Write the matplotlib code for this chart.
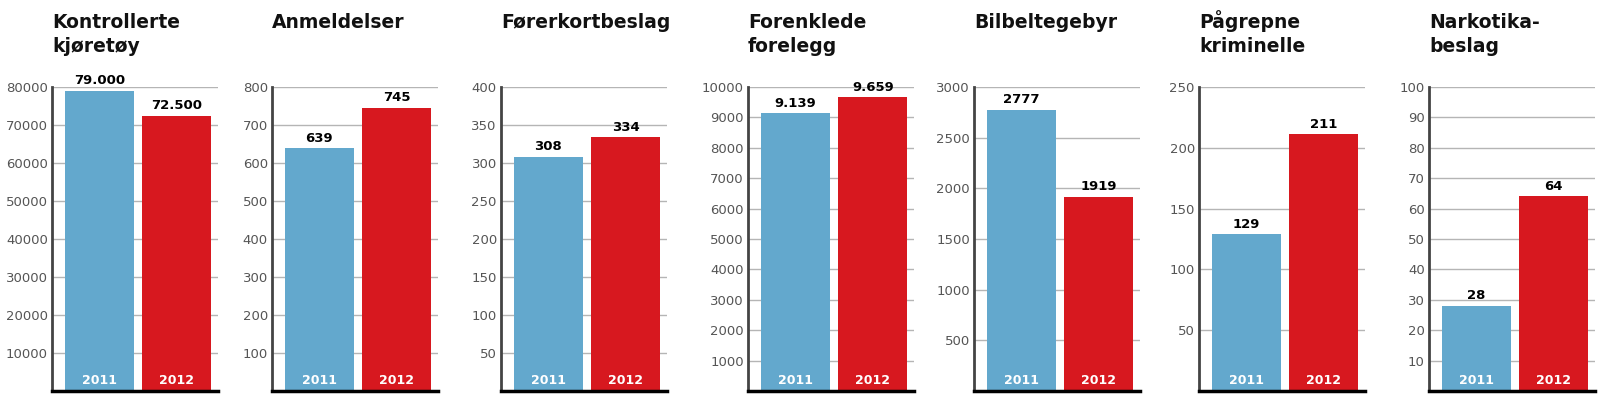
import numpy as np
import matplotlib
matplotlib.use("Agg")
import matplotlib.pyplot as plt

# data
titles = ["Kontrollerte\nkjøretøy", "Anmeldelser", "Førerkortbeslag",
          "Forenklede\nforelegg", "Bilbeltegebyr", "Pågrepne\nkriminelle",
          "Narkotika-\nbeslag"]
years = ["2011", "2012"]
values_2011 = [79000, 639, 308, 9139, 2777, 129, 28]
values_2012 = [72500, 745, 334, 9659, 1919, 211, 64]
labels_2011 = ["79.000", "639", "308", "9.139", "2777", "129", "28"]
labels_2012 = ["72.500", "745", "334", "9.659", "1919", "211", "64"]
y_max = [80000, 800, 400, 10000, 3000, 250, 100]
y_step = [10000, 100, 50, 1000, 500, 50, 10]

blue = "#63a8cd"
red = "#d7181f"

W, H = 1600, 398
fig = plt.figure(figsize=(W / 100, H / 100), dpi=100)

# panel layout in pixels
ax_left = [52, 272, 501, 748, 974, 1199, 1429]
ax_w = 166
ax_top, ax_bot = 87, 391

x = np.arange(2)
bw = 0.885

for i in range(len(titles)):
    ax = fig.add_axes([ax_left[i] / W, (H - ax_bot) / H, ax_w / W, (ax_bot - ax_top) / H])
    vals = [values_2011[i], values_2012[i]]
    labs = [labels_2011[i], labels_2012[i]]
    ax.bar(x, vals, width=bw, color=[blue, red], zorder=2)
    ax.set_xlim(-0.609, 1.532)
    ax.set_ylim(0, y_max[i])
    ax.set_yticks(np.arange(y_step[i], y_max[i] + 1, y_step[i]))
    ax.set_xticks([])
    ax.tick_params(axis="y", length=0, pad=3, labelsize=9.5, labelcolor="#555555")
    ax.yaxis.grid(True, color="#b5b5b5", lw=1)
    ax.set_axisbelow(True)
    for s in ["top", "right"]:
        ax.spines[s].set_visible(False)
    ax.spines["left"].set_color("#444444")
    ax.spines["left"].set_linewidth(2)
    ax.spines["bottom"].set_color("black")
    ax.spines["bottom"].set_linewidth(2.5)
    ax.spines["bottom"].set_zorder(3)
    for xi, v, lab, yr in zip(x, vals, labs, years):
        ax.annotate(lab, (xi, v), xytext=(0, 2.5), textcoords="offset points",
                    ha="center", va="bottom", fontsize=9.5, fontweight="bold",
                    color="black", annotation_clip=False)
        ax.annotate(yr, (xi, 0), xytext=(0, 3), textcoords="offset points",
                    ha="center", va="bottom", fontsize=9, fontweight="bold",
                    color="white")
    # title, one line at a time
    for k, line in enumerate(titles[i].split("\n")):
        fig.text(ax_left[i] / W, (H - 28 - 24 * k) / H, line, ha="left",
                 va="baseline", fontsize=13.5, fontweight="bold", color="#111111")

fig.savefig("out.png", dpi=100)
